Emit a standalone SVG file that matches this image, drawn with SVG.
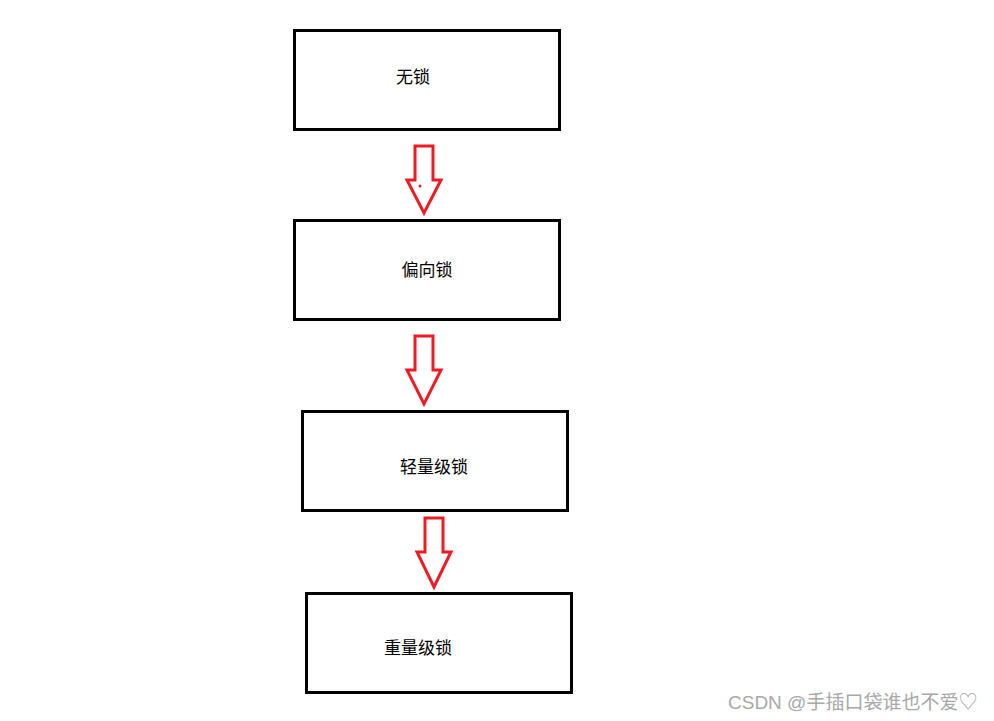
<svg xmlns="http://www.w3.org/2000/svg" width="994" height="721" viewBox="0 0 994 721">
<style>
.box{fill:#fff;stroke:#000;stroke-width:3}
.arr{fill:none;stroke:#ed1c24;stroke-width:3;stroke-linejoin:miter}
.lbl{font-family:"Noto Sans CJK SC","Liberation Sans",sans-serif;font-size:17px;fill:#000;text-anchor:middle;dominant-baseline:central}
.wm{font-family:"Liberation Sans","Noto Sans CJK SC",sans-serif;font-size:19px;fill:#a8a8a8}
</style>
<rect width="994" height="721" fill="#fff"/>
<g id="n1"><rect class="box" x="294.5" y="30.5" width="265" height="99"/><text class="lbl" x="413" y="75">无锁</text></g>
<g id="n2"><rect class="box" x="294.5" y="220.5" width="265" height="99"/><text class="lbl" x="427" y="268">偏向锁</text></g>
<g id="n3"><rect class="box" x="302.5" y="411.5" width="265" height="99"/><text class="lbl" x="434" y="465">轻量级锁</text></g>
<g id="n4"><rect class="box" x="306.5" y="593.5" width="265" height="99"/><text class="lbl" x="418" y="646">重量级锁</text></g>
<g id="connectors">
<path class="arr" d="M415 146 H433 V180 H441 L424 213 L407 180 H415 Z"/>
<circle cx="420" cy="186" r="1.5" fill="#ed1c24"/>
<path class="arr" d="M415 336 H433 V370 H441 L424 404 L407 370 H415 Z"/>
<path class="arr" d="M425 518 H443 V552 H451 L434 587 L417 552 H425 Z"/>
</g>
<text class="wm" x="728" y="709">CSDN @手插口袋谁也不爱♡</text>
</svg>
